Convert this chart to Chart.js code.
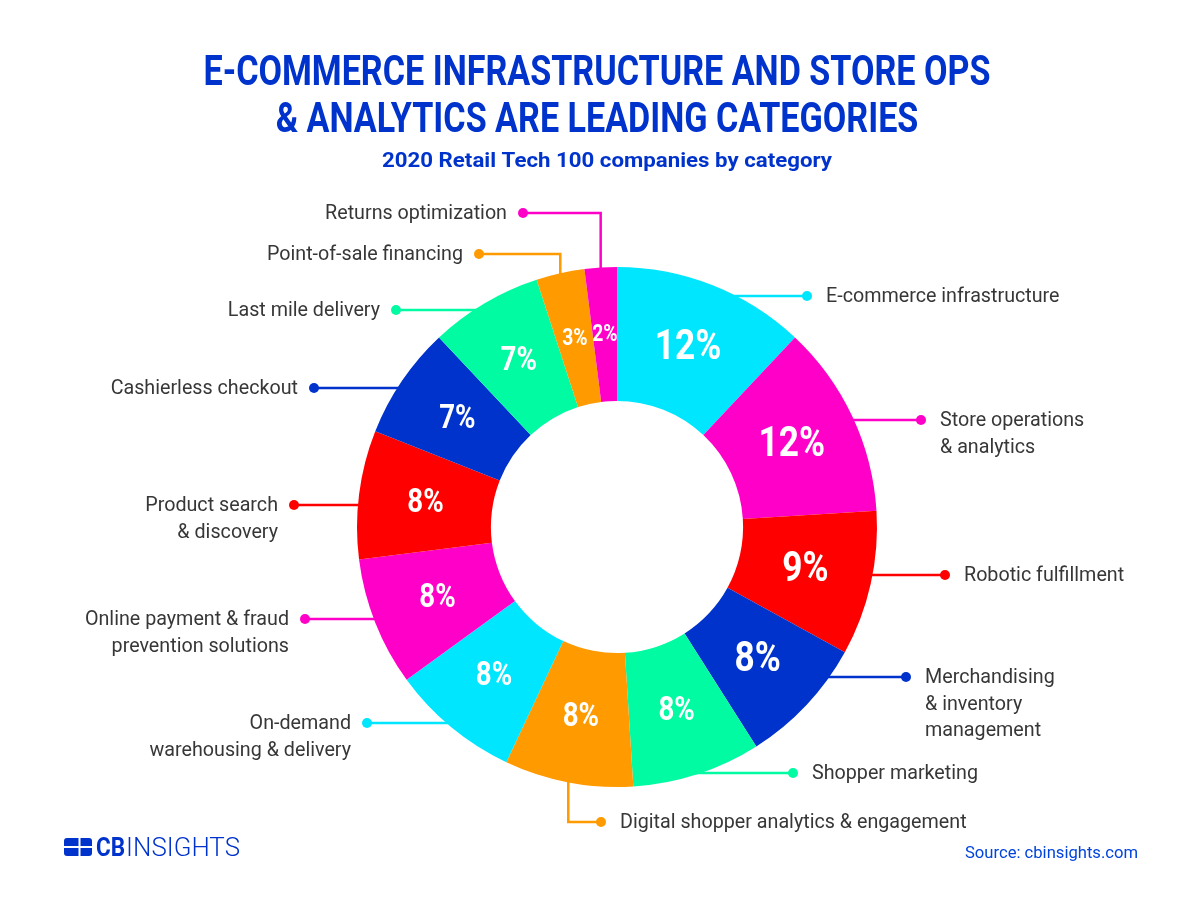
<!DOCTYPE html>
<html>
<head>
<meta charset="utf-8">
<script src="https://cdn.jsdelivr.net/npm/chart.js@4.4.0/dist/chart.umd.min.js"></script>
<style>
  html, body { margin: 0; padding: 0; background: #fff; }
  canvas { display: block; }
</style>
</head>
<body>
<canvas id="chart" width="1200" height="900"></canvas>
<script>
// --- data ---
const categories = [
  'E-commerce infrastructure',
  'Store operations\n& analytics',
  'Robotic fulfillment',
  'Merchandising\n& inventory\nmanagement',
  'Shopper marketing',
  'Digital shopper analytics & engagement',
  'On-demand\nwarehousing & delivery',
  'Online payment & fraud\nprevention solutions',
  'Product search\n& discovery',
  'Cashierless checkout',
  'Last mile delivery',
  'Point-of-sale financing',
  'Returns optimization'
];
const shares = [12, 12, 9, 8, 8, 8, 8, 8, 8, 7, 7, 3, 2];
const titleLines = ['E-COMMERCE INFRASTRUCTURE AND STORE OPS', '& ANALYTICS ARE LEADING CATEGORIES'];
const subtitle = '2020 Retail Tech 100 companies by category';
const sourceText = 'Source: cbinsights.com';

// --- styles / layout ---
const CYAN = '#00e6fe', MAG = '#ff00c8', RED = '#ff0000', BLUE = '#0033cc', GREEN = '#00fba3', ORANGE = '#ff9a00';
const sliceColors = [CYAN, MAG, RED, BLUE, GREEN, ORANGE, CYAN, MAG, RED, BLUE, GREEN, ORANGE, MAG];
const pctSizes = [42, 42, 42, 42, 33, 33, 33, 33, 33, 33, 33, 23, 23];

// where each callout dot sits, which side the text goes, and whether the leader bends
const labelLayout = [
  { dot: [807, 296], side: 'right' },
  { dot: [921, 420], side: 'right' },
  { dot: [945, 575], side: 'right' },
  { dot: [906, 677], side: 'right' },
  { dot: [793, 773], side: 'right' },
  { dot: [601, 822], side: 'right', elbow: true },
  { dot: [367, 723], side: 'left' },
  { dot: [305, 619], side: 'left' },
  { dot: [294, 505], side: 'left' },
  { dot: [314, 388], side: 'left' },
  { dot: [396, 310], side: 'left' },
  { dot: [479, 254], side: 'left', elbow: true },
  { dot: [523, 213], side: 'left', elbow: true }
];

const LABEL_FONT = '20px Roboto';
const LABEL_SCALE = 0.985;
const LINE_GAP = 26.5;

function squeezeText(ctx, text, x, y, align, sx) {
  ctx.save();
  ctx.translate(x, y);
  ctx.scale(sx, 1);
  ctx.textAlign = align;
  ctx.fillText(text, 0, 0);
  ctx.restore();
}

function fitScale(ctx, text, width) {
  return width / ctx.measureText(text).width;
}

const calloutPlugin = {
  id: 'callouts',
  beforeDatasetsDraw(chart) {
    const ctx = chart.ctx;
    chart.getDatasetMeta(0).data.forEach((arc, i) => {
      const L = labelLayout[i];
      const p = arc.getProps(['x', 'y', 'outerRadius', 'startAngle', 'endAngle'], true);
      const [dx, dy] = L.dot;
      ctx.save();
      ctx.strokeStyle = sliceColors[i];
      ctx.fillStyle = sliceColors[i];
      ctx.lineWidth = 2.5;
      ctx.beginPath();
      if (L.elbow) {
        const mid = (p.startAngle + p.endAngle) / 2;
        const ex = p.x + Math.cos(mid) * p.outerRadius;
        const ey = p.y + Math.sin(mid) * p.outerRadius;
        ctx.moveTo(ex, ey + (dy < p.y ? 12 : -12));
        ctx.lineTo(ex, dy);
        ctx.lineTo(dx, dy);
      } else {
        const h = Math.sqrt(Math.max(p.outerRadius ** 2 - (dy - p.y) ** 2, 0));
        const sx = dx > p.x ? p.x + h - 12 : p.x - h + 12;
        ctx.moveTo(sx, dy);
        ctx.lineTo(dx, dy);
      }
      ctx.stroke();
      ctx.beginPath();
      ctx.arc(dx, dy, 5, 0, Math.PI * 2);
      ctx.fill();
      ctx.restore();
    });
  },
  afterDatasetsDraw(chart) {
    const ctx = chart.ctx;
    chart.getDatasetMeta(0).data.forEach((arc, i) => {
      const pos = arc.tooltipPosition(true);
      ctx.save();
      ctx.fillStyle = '#ffffff';
      ctx.font = `bold ${pctSizes[i]}px Roboto`;
      ctx.textBaseline = 'middle';
      squeezeText(ctx, shares[i] + '%', pos.x, pos.y + 1, 'center', 0.84);
      ctx.restore();

      // category text
      const L = labelLayout[i];
      const lines = categories[i].split('\n');
      ctx.save();
      ctx.fillStyle = '#373737';
      ctx.font = LABEL_FONT;
      ctx.textBaseline = 'middle';
      const tx = L.side === 'right' ? L.dot[0] + 19 : L.dot[0] - 16;
      lines.forEach((ln, k) => {
        squeezeText(ctx, ln, tx, L.dot[1] + 1 + k * LINE_GAP, L.side === 'right' ? 'left' : 'right', LABEL_SCALE);
      });
      ctx.restore();
    });
  },
  afterDraw(chart) {
    const ctx = chart.ctx;
    ctx.save();
    ctx.fillStyle = '#0033cc';
    ctx.textBaseline = 'alphabetic';
    ctx.font = 'bold 42px Roboto';
    const ts = fitScale(ctx, titleLines[0], 787);
    squeezeText(ctx, titleLines[0], 597, 85, 'center', ts);
    squeezeText(ctx, titleLines[1], 597, 132, 'center', ts);
    ctx.font = 'bold 20px Roboto';
    squeezeText(ctx, subtitle, 607, 167, 'center', fitScale(ctx, subtitle, 450));

    // source
    ctx.fillStyle = '#0044dd';
    ctx.font = '16px Roboto';
    squeezeText(ctx, sourceText, 1138, 858, 'right', fitScale(ctx, sourceText, 173));

    // CB Insights logo
    ctx.fillStyle = '#0033cc';
    ctx.beginPath();
    ctx.roundRect(64, 838, 28, 18, 3);
    ctx.fill();
    ctx.fillStyle = '#ffffff';
    ctx.fillRect(78.5, 838, 2, 18);
    ctx.fillRect(64, 846, 28, 2);
    ctx.fillStyle = '#0033cc';
    ctx.font = 'bold 25px Roboto';
    const cbW = ctx.measureText('CB').width * 0.9;
    squeezeText(ctx, 'CB', 96, 856, 'left', 0.9);
    ctx.font = '300 25px Roboto';
    squeezeText(ctx, 'INSIGHTS', 96 + cbW + 1, 856, 'left', fitScale(ctx, 'INSIGHTS', 240 - 97 - cbW));
    ctx.restore();
  }
};

new Chart(document.getElementById('chart').getContext('2d'), {
  type: 'doughnut',
  data: {
    labels: categories,
    datasets: [{
      data: shares,
      backgroundColor: sliceColors,
      borderWidth: 0,
      hoverOffset: 0
    }]
  },
  options: {
    responsive: false,
    animation: false,
    devicePixelRatio: 1,
    cutout: '48.5%',
    events: [],
    layout: { padding: { top: 267, bottom: 113, left: 357, right: 323 } },
    plugins: {
      legend: { display: false },
      tooltip: { enabled: false }
    }
  },
  plugins: [calloutPlugin]
});
</script>
</body>
</html>
